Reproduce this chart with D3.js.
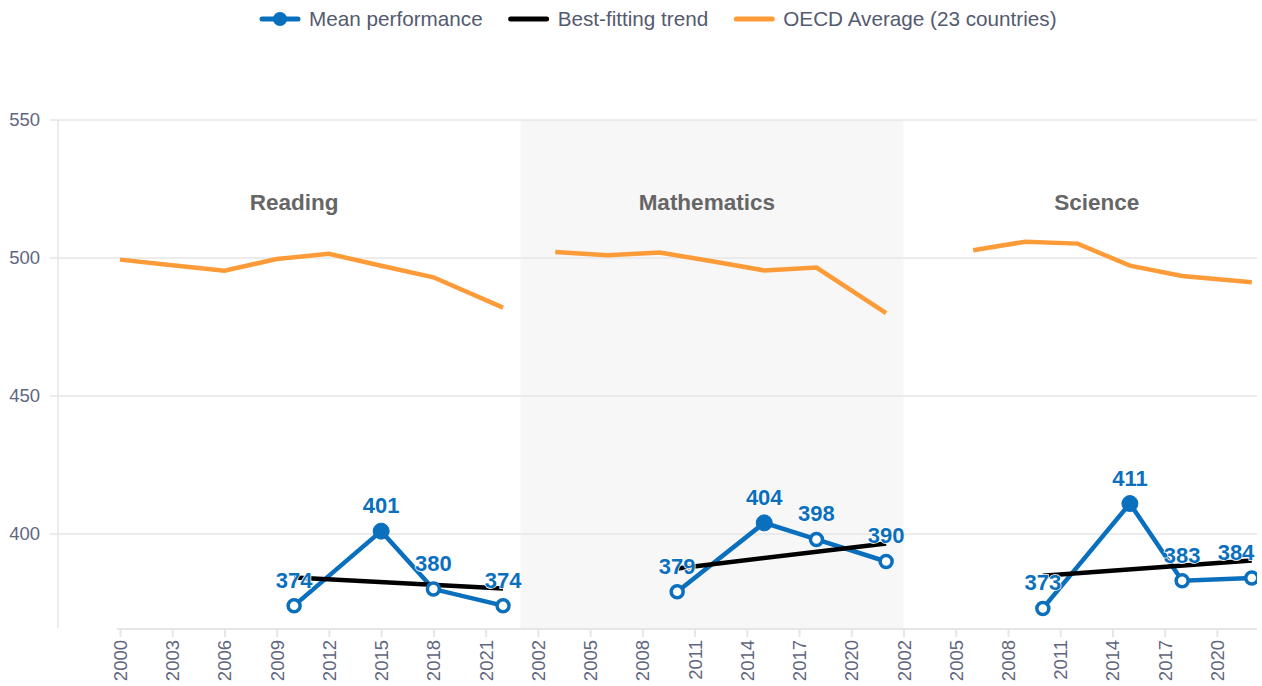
<html>
<head>
<script src="https://d3js.org/d3.v7.min.js"></script>
<style>
  body { margin: 0; background: #fff; }
  text { font-family: "Liberation Sans", Arial, Helvetica, sans-serif; }
</style>
</head>
<body>
<svg id="chart" width="1262" height="686"></svg>
<script>
// panels laid out on one continuous axis; offset turns axis years back into real years
const panels = ["Reading", "Mathematics", "Science"];
const panelStart = [1996.44, 2023, 2045];
const panelEnd = [2023, 2045, 2065.3];
const panelOffset = [0, 22, 43];
const titleAt = [2010, 2033.7, 2056.1];

const meanYears = [2010, 2015, 2018, 2022];
const meanReading = [374, 401, 380, 374];
const meanMaths = [379, 404, 398, 390];
const meanScience = [373, 411, 383, 384];

const trendReading = [384.2, 380.2];
const trendMaths = [387.5, 396.5];
const trendScience = [384.8, 390.4];

const oecdReadingYears = [2000, 2003, 2006, 2009, 2012, 2015, 2018, 2022];
const oecdReading = [499.4, 497.4, 495.4, 499.6, 501.5, 497.2, 493, 482];
const oecdMathsYears = [2003, 2006, 2009, 2012, 2015, 2018, 2022];
const oecdMaths = [502.2, 501, 502, 498.8, 495.5, 496.5, 480];
const oecdScienceYears = [2006, 2009, 2012, 2015, 2018, 2022];
const oecdScience = [502.8, 505.9, 505.2, 497.2, 493.5, 491.2];

const yTicks = [400, 450, 500, 550];
const blue = "#0a6fbd", orange = "#fd9b38";

const svg = d3.select("#chart");
const x = d3.scaleLinear().domain([1996.44, 2065.3]).range([58, 1257]);
const y = d3.scaleLinear().domain([365.9, 550]).range([628, 120]);

// alternate band
svg.append("rect")
   .attr("x", x(panelStart[1])).attr("y", y(550))
   .attr("width", x(panelEnd[1]) - x(panelStart[1]))
   .attr("height", y(365.9) - y(550))
   .attr("fill", "#f7f7f7");

// y grid + labels
svg.append("g").selectAll("line").data(yTicks).join("line")
   .attr("x1", 50).attr("x2", 1257)
   .attr("y1", d => y(d)).attr("y2", d => y(d))
   .attr("stroke", "#e6e6e6").attr("stroke-width", 1.5);
svg.append("line").attr("x1", 58).attr("x2", 58)
   .attr("y1", y(550)).attr("y2", y(365.9))
   .attr("stroke", "#e6e6e6").attr("stroke-width", 1.5);
svg.append("g").selectAll("text").data(yTicks).join("text")
   .attr("x", 40).attr("y", d => y(d) + 6)
   .attr("text-anchor", "end").attr("font-size", 18.5)
   .attr("fill", "#5f6680").text(d => d);

// x axis
function labelFor(v) {
    let i = v < 2023 ? 0 : (v < 2045 ? 1 : 2);
    return v - panelOffset[i];
}
const xTicks = d3.range(2000, 2064, 3);
const xAxis = d3.axisBottom(x).tickValues(xTicks).tickSize(8).tickFormat(labelFor);
const gx = svg.append("g").attr("transform", "translate(0,629)").call(xAxis);
gx.select(".domain").remove();
gx.append("line").attr("x1", 117).attr("x2", 1257).attr("y1", 0).attr("y2", 0)
  .attr("stroke", "#e6e6e6").attr("stroke-width", 2);
gx.selectAll(".tick line").attr("stroke", "#e6e6e6").attr("stroke-width", 2);
gx.selectAll(".tick text")
  .attr("transform", "rotate(-90)")
  .attr("x", -11).attr("y", 0).attr("dy", "0.35em")
  .attr("text-anchor", "end")
  .attr("font-size", 18.5)
  .attr("font-family", "Liberation Sans, Arial, sans-serif")
  .attr("fill", "#5f6680");

// panel titles
svg.append("g").selectAll("text").data(panels).join("text")
   .attr("x", (d, i) => x(titleAt[i])).attr("y", 210)
   .attr("text-anchor", "middle").attr("font-size", 22.5)
   .attr("font-weight", "bold").attr("fill", "#666666").text(d => d);

const plot = svg.append("g");
plot.append("clipPath").attr("id", "clip").append("rect")
    .attr("x", 58).attr("y", 100).attr("width", 1199).attr("height", 540);
const inner = plot.append("g").attr("clip-path", "url(#clip)");

const line = d3.line().x(d => x(d[0])).y(d => y(d[1]));

// OECD average
[[oecdReadingYears, oecdReading], [oecdMathsYears, oecdMaths], [oecdScienceYears, oecdScience]]
  .forEach(([yrs, vals], i) => {
    inner.append("path")
      .datum(yrs.map((yr, k) => [yr + panelOffset[i], vals[k]]))
      .attr("d", line).attr("fill", "none")
      .attr("stroke", orange).attr("stroke-width", 4.5);
  });

// mean performance lines
const means = [meanReading, meanMaths, meanScience];
means.forEach((vals, i) => {
    inner.append("path")
      .datum(meanYears.map((yr, k) => [yr + panelOffset[i], vals[k]]))
      .attr("d", line).attr("fill", "none")
      .attr("stroke", blue).attr("stroke-width", 4.5);
});

// best-fitting trend
[trendReading, trendMaths, trendScience].forEach((vals, i) => {
    const y0 = meanYears[0] + panelOffset[i], y1 = meanYears[meanYears.length - 1] + panelOffset[i];
    inner.append("path")
      .datum([[y0, vals[0]], [y1, vals[1]]])
      .attr("d", line).attr("fill", "none")
      .attr("stroke", "#000").attr("stroke-width", 4.5);
});

// markers and labels
means.forEach((vals, i) => {
    const pts = meanYears.map((yr, k) => ({ px: x(yr + panelOffset[i]), py: y(vals[k]), v: vals[k], yr: yr }));
    inner.selectAll(null).data(pts).join("circle")
      .attr("cx", d => d.px).attr("cy", d => d.py)
      .attr("r", d => d.yr === 2015 ? 8 : 6)
      .attr("fill", d => d.yr === 2015 ? blue : "#fff")
      .attr("stroke", blue).attr("stroke-width", d => d.yr === 2015 ? 1 : 3.5);
    plot.selectAll(null).data(pts).join("text")
      .attr("x", d => Math.min(d.px, 1257 - 21)).attr("y", d => d.py - 18)
      .attr("text-anchor", "middle").attr("font-size", 22)
      .attr("font-weight", "bold").attr("fill", blue)
      .attr("stroke", "#fff").attr("stroke-width", 1.5).attr("paint-order", "stroke")
      .text(d => d.v);
});

// legend
const legendItems = [
  { name: "Mean performance", color: blue, dot: true },
  { name: "Best-fitting trend", color: "#000", dot: false },
  { name: "OECD Average (23 countries)", color: orange, dot: false }
];
const lg = svg.append("g");
let lx = 262;
legendItems.forEach(it => {
    lg.append("line").attr("x1", lx).attr("x2", lx + 36).attr("y1", 19).attr("y2", 19)
      .attr("stroke", it.color).attr("stroke-width", 5).attr("stroke-linecap", "round");
    if (it.dot) lg.append("circle").attr("cx", lx + 18).attr("cy", 19).attr("r", 7).attr("fill", it.color);
    const t = lg.append("text").attr("x", lx + 47).attr("y", 26)
      .attr("font-size", 20.7).attr("fill", "#545a70").text(it.name);
    lx += 47 + t.node().getComputedTextLength() + 28;
});
</script>
</body>
</html>
